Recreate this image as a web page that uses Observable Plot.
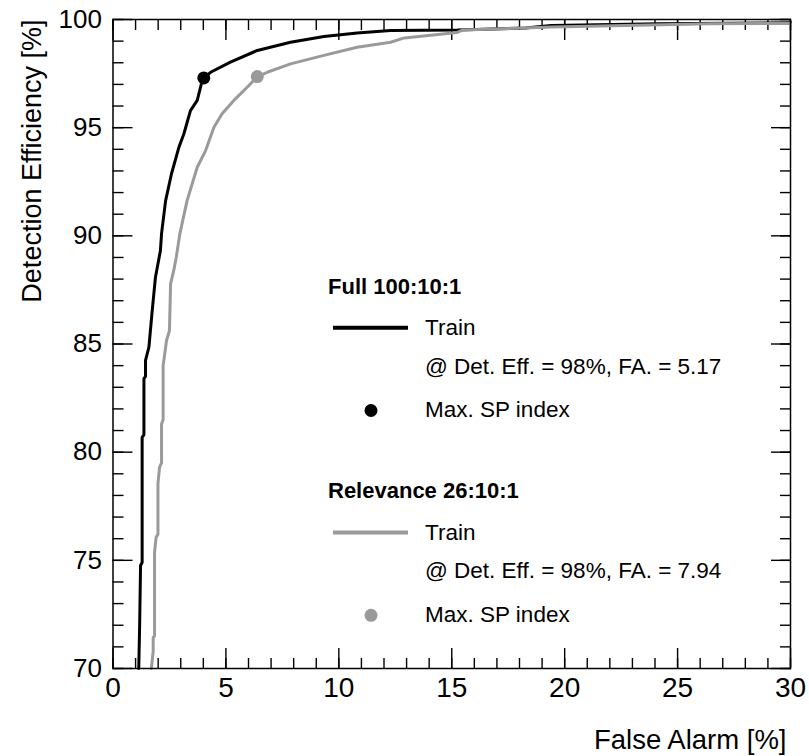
<!DOCTYPE html>
<html>
<head>
<meta charset="utf-8">
<script src="https://cdn.jsdelivr.net/npm/d3@7"></script>
<script src="https://cdn.jsdelivr.net/npm/@observablehq/plot@0.6"></script>
<style>
  html, body { margin: 0; padding: 0; background: #ffffff; }
  #chart svg { display: block; }
</style>
</head>
<body>
<div id="chart"></div>
<script>
// ---- Data ----
const seriesNames = ["Full 100:10:1", "Relevance 26:10:1"];
const seriesColors = ["#000000", "#9a9a9a"];
const faAt98 = [5.17, 7.94];

const fullFalseAlarm = [1.14, 1.18, 1.22, 1.29, 1.29, 1.37, 1.37, 1.44, 1.44, 1.59, 1.73, 1.88, 2.10, 2.15, 2.33, 2.59, 2.92, 3.14, 3.43, 3.73, 3.95, 4.02, 4.32, 5.20, 6.39, 7.86, 9.34, 10.81, 12.29, 15.26, 18.27, 19.4, 24.2, 30.0];
const fullEfficiency = [70.0, 72.0, 74.76, 74.9, 80.69, 80.8, 83.4, 83.5, 84.24, 84.85, 86.47, 88.09, 89.32, 90.1, 91.63, 92.87, 94.10, 94.72, 95.79, 96.26, 97.18, 97.30, 97.56, 98.03, 98.57, 98.95, 99.21, 99.38, 99.49, 99.52, 99.61, 99.72, 99.80, 99.85];

const relFalseAlarm = [1.70, 1.78, 1.78, 1.84, 1.84, 1.91, 1.99, 1.99, 2.06, 2.15, 2.15, 2.22, 2.22, 2.37, 2.50, 2.55, 2.69, 2.80, 2.96, 3.28, 3.73, 4.10, 4.47, 4.83, 5.35, 5.94, 6.39, 6.83, 7.86, 9.34, 10.81, 12.29, 12.9, 15.24, 15.5, 19.45, 26.46, 30.0];
const relEfficiency = [70.0, 70.8, 71.44, 71.5, 75.37, 76.07, 76.2, 78.53, 79.30, 79.5, 81.31, 81.5, 84.0, 85.16, 85.62, 87.78, 88.40, 89.0, 90.09, 91.63, 93.17, 93.94, 95.02, 95.64, 96.26, 96.87, 97.36, 97.56, 97.95, 98.34, 98.72, 98.95, 99.15, 99.40, 99.52, 99.65, 99.80, 99.82];

const maxSPFalseAlarm = [4.02, 6.39];
const maxSPEfficiency = [97.30, 97.36];

const xMajorTicks = [0, 5, 10, 15, 20, 25, 30];
const xMinorTicks = [0,1,2,3,4,5,6,7,8,9,10,11,12,13,14,15,16,17,18,19,20,21,22,23,24,25,26,27,28,29,30];
const yMajorTicks = [70, 75, 80, 85, 90, 95, 100];
const yMinorTicks = [70,71,72,73,74,75,76,77,78,79,80,81,82,83,84,85,86,87,88,89,90,91,92,93,94,95,96,97,98,99,100];

const xTitle = "False Alarm [%]";
const yTitle = "Detection Efficiency [%]";

// ---- Tables ----
const fullData = fullFalseAlarm.map((x, i) => ({x, y: fullEfficiency[i]}));
const relData = relFalseAlarm.map((x, i) => ({x, y: relEfficiency[i]}));
const spData = maxSPFalseAlarm.map((x, i) => ({x, y: maxSPEfficiency[i], c: seriesColors[i]}));

const font = "'Liberation Sans', Arial, Helvetica, sans-serif";
const W = 809, H = 756;
const mL = 112.5, mR = 19, mT = 19, mB = 88;

const tickCommon = {label: null, tickFormat: () => "", stroke: "#000", strokeWidth: 1.4};

const chart = Plot.plot({
  width: W, height: H,
  marginLeft: mL, marginRight: mR, marginTop: mT, marginBottom: mB,
  x: {domain: [0, 30]},
  y: {domain: [70, 100]},
  style: {fontFamily: font, background: "#ffffff", color: "#000"},
  marks: [
    // minor ticks (inside)
    Plot.axisX({...tickCommon, ticks: xMinorTicks, anchor: "bottom", tickSize: -10}),
    Plot.axisX({...tickCommon, ticks: xMinorTicks, anchor: "top", tickSize: -10}),
    Plot.axisY({...tickCommon, ticks: yMinorTicks, anchor: "left", tickSize: -11}),
    Plot.axisY({...tickCommon, ticks: yMinorTicks, anchor: "right", tickSize: -11}),
    // major ticks (inside)
    Plot.axisX({...tickCommon, ticks: xMajorTicks, anchor: "bottom", tickSize: -20}),
    Plot.axisX({...tickCommon, ticks: xMajorTicks, anchor: "top", tickSize: -20}),
    Plot.axisY({...tickCommon, ticks: yMajorTicks, anchor: "left", tickSize: -20}),
    Plot.axisY({...tickCommon, ticks: yMajorTicks, anchor: "right", tickSize: -20}),
    // tick labels
    Plot.axisX({ticks: xMajorTicks, anchor: "bottom", tickSize: 0, tickPadding: 9, fontSize: 28, label: null, tickFormat: d => String(d), fill: "#000"}),
    Plot.axisY({ticks: yMajorTicks, anchor: "left", tickSize: 0, tickPadding: 11, fontSize: 26, label: null, tickFormat: d => String(d), fill: "#000"}),
    // axis titles
    Plot.text([yTitle], {text: d => d, frameAnchor: "top-left", rotate: -90, textAnchor: "end", lineAnchor: "middle", dx: -80.5, fontSize: 27, fill: "#000"}),
    Plot.text([xTitle], {text: d => d, frameAnchor: "bottom-right", textAnchor: "end", lineAnchor: "middle", dx: -4, dy: 71.5, fontSize: 27.5, fill: "#000"}),
    // curves
    Plot.line(fullData, {x: "x", y: "y", stroke: seriesColors[0], strokeWidth: 3, strokeLinejoin: "miter"}),
    Plot.dot(spData.slice(0, 1), {x: "x", y: "y", r: 6.5, fill: "c", stroke: null}),
    Plot.line(relData, {x: "x", y: "y", stroke: seriesColors[1], strokeWidth: 3, strokeLinejoin: "miter"}),
    Plot.dot(spData.slice(1, 2), {x: "x", y: "y", r: 6.5, fill: "c", stroke: null}),
    Plot.frame({stroke: "#000", strokeWidth: 1.5})
  ]
});

document.getElementById("chart").appendChild(chart);

// ---- Legend (inside the frame) ----
const svg = d3.select(chart);
const lg = svg.append("g").attr("font-family", font).attr("fill", "#000").attr("text-anchor", "start");
const blocks = [
  {top: 293.5},
  {top: 498.3}
];
seriesNames.forEach((name, i) => {
  const b = blocks[i].top;
  lg.append("text").attr("x", 328).attr("y", b).attr("font-size", 22).attr("font-weight", "bold").attr("text-anchor", "start").text(name);
  lg.append("line").attr("x1", 333).attr("x2", 408).attr("y1", b + 34.3).attr("y2", b + 34.3)
    .attr("stroke", seriesColors[i]).attr("stroke-width", 4);
  lg.append("text").attr("x", 425).attr("y", b + 41.5).attr("font-size", 22.5).attr("text-anchor", "start").text("Train");
  lg.append("text").attr("x", 425).attr("y", b + 80).attr("font-size", 22.5).attr("text-anchor", "start")
    .text(`@ Det. Eff. = 98%, FA. = ${faAt98[i].toFixed(2)}`);
  lg.append("circle").attr("cx", 371).attr("cy", b + 117).attr("r", 6.5).attr("fill", seriesColors[i]);
  lg.append("text").attr("x", 425).attr("y", b + 123.2).attr("font-size", 22.5).attr("text-anchor", "start").text("Max. SP index");
});
</script>
</body>
</html>
